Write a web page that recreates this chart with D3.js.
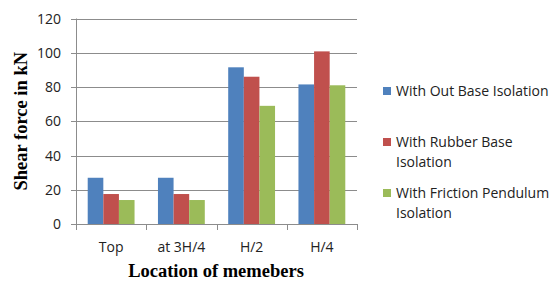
<!DOCTYPE html>
<html>
<head>
<meta charset="utf-8">
<script src="https://cdn.jsdelivr.net/npm/d3@7"></script>
<style>
  body { margin: 0; background: #fff; }
  text { font-family: "Open Sans", "Liberation Sans", sans-serif; }
</style>
</head>
<body>
<svg id="chart"></svg>
<script>
var width = 552,
    height = 283

// chart data
var locations = ["Top", "at 3H/4", "H/2", "H/4"];
var seriesNames = ["With Out Base Isolation", "With Rubber Base Isolation", "With Friction Pendulum Isolation"];
var withOutBase = [27, 27, 91.5, 81.5];
var withRubber = [17.5, 17.5, 86, 100.8];
var withFriction = [14, 14, 69, 81];
var yTicks = [0, 20, 40, 60, 80, 100, 120];

var colors = ["#4F81BD", "#C0504D", "#9BBB59"];
var legendLines = [["With Out Base Isolation"], ["With Rubber Base", "Isolation"], ["With Friction Pendulum", "Isolation"]];

var margin = {left: 76, right: 195, top: 18.5, bottom: 59};

var svg = d3.select("svg#chart")
    .attr("width", width)
    .attr("height", height);

var x = d3.scaleBand()
    .domain(locations)
    .range([margin.left, width - margin.right])
    .paddingInner(0)
    .paddingOuter(0);

var x1 = d3.scaleBand()
    .domain([0, 1, 2])
    .range([0, x.bandwidth()])
    .paddingOuter(0.75)
    .paddingInner(0);

var y = d3.scaleLinear()
    .domain([0, 120])
    .range([height - margin.bottom, margin.top]);

// gridlines
svg.append("g")
    .selectAll("line")
    .data(yTicks)
    .enter()
    .append("line")
    .attr("x1", margin.left)
    .attr("x2", width - margin.right)
    .attr("y1", function(d){ return Math.round(y(d)) + 0.5 })
    .attr("y2", function(d){ return Math.round(y(d)) + 0.5 })
    .attr("stroke", "#8c8c8c")
    .attr("stroke-width", 1);

// y axis labels
svg.append("g")
    .selectAll("text")
    .data(yTicks)
    .enter()
    .append("text")
    .attr("x", margin.left - 15)
    .attr("y", function(d){ return y(d) + 5 })
    .attr("text-anchor", "end")
    .attr("font-size", 14)
    .attr("fill", "#222")
    .text(function(d){ return d });

// y axis line and left tick
svg.append("line")
    .attr("x1", margin.left + 0.5).attr("x2", margin.left + 0.5)
    .attr("y1", y(120)).attr("y2", y(0))
    .attr("stroke", "#8c8c8c");
svg.append("g")
    .selectAll("line")
    .data(yTicks)
    .enter()
    .append("line")
    .attr("x1", margin.left - 5).attr("x2", margin.left)
    .attr("y1", function(d){ return Math.round(y(d)) + 0.5 })
    .attr("y2", function(d){ return Math.round(y(d)) + 0.5 })
    .attr("stroke", "#8c8c8c");

// bars
var allSeries = [withOutBase, withRubber, withFriction];
var groups = svg.selectAll("g.cat")
    .data(locations)
    .enter()
    .append("g")
    .attr("class", "cat")
    .attr("transform", function(d){ return "translate(" + x(d) + ",0)" });

groups.selectAll("rect")
    .data(function(d, i){ return allSeries.map(function(s, k){ return {k: k, v: s[i]} }) })
    .enter()
    .append("rect")
    .attr("x", function(d){ return x1(d.k) })
    .attr("width", x1.bandwidth())
    .attr("y", function(d){ return y(d.v) })
    .attr("height", function(d){ return y(0) - y(d.v) })
    .attr("fill", function(d){ return colors[d.k] });

// x axis
var xEdges = locations.map(function(d){ return x(d) }).concat([x.range()[1]]);
svg.append("line")
    .attr("x1", margin.left).attr("x2", width - margin.right)
    .attr("y1", Math.round(y(0)) + 0.5).attr("y2", Math.round(y(0)) + 0.5)
    .attr("stroke", "#8c8c8c");
svg.append("g")
    .selectAll("line")
    .data(xEdges)
    .enter()
    .append("line")
    .attr("x1", function(d){ return Math.round(d) + 0.5 })
    .attr("x2", function(d){ return Math.round(d) + 0.5 })
    .attr("y1", y(0)).attr("y2", y(0) + 6)
    .attr("stroke", "#8c8c8c");

svg.append("g")
    .selectAll("text")
    .data(locations)
    .enter()
    .append("text")
    .attr("x", function(d){ return x(d) + x.bandwidth() / 2 })
    .attr("y", y(0) + 28)
    .attr("text-anchor", "middle")
    .attr("font-size", 14)
    .attr("fill", "#222")
    .text(function(d){ return d });

// axis titles
svg.append("text")
    .attr("transform", "translate(27," + ((y(0) + y(120)) / 2) + ") rotate(-90)")
    .attr("text-anchor", "middle")
    .style("font-family", "'Liberation Serif', serif")
    .attr("font-weight", "bold")
    .attr("font-size", 18.5)
    .text("Shear force in kN");

svg.append("text")
    .attr("x", 216)
    .attr("y", 277)
    .attr("text-anchor", "middle")
    .style("font-family", "'Liberation Serif', serif")
    .attr("font-weight", "bold")
    .attr("font-size", 18.5)
    .text("Location of memebers");

// legend
var legendY = [96, 147, 198];
var legend = svg.selectAll("g.legend")
    .data(seriesNames)
    .enter()
    .append("g")
    .attr("class", "legend")
    .attr("transform", function(d, i){ return "translate(383," + legendY[i] + ")" });

legend.append("rect")
    .attr("x", 0)
    .attr("y", -9)
    .attr("width", 8)
    .attr("height", 8)
    .attr("fill", function(d, i){ return colors[i] });

legend.each(function(d, i){
    var t = d3.select(this).append("text")
        .attr("x", 13)
        .attr("y", 0)
        .attr("font-size", 14)
        .attr("fill", "#222");
    legendLines[i].forEach(function(line, j){
        t.append("tspan")
            .attr("x", 13)
            .attr("dy", j === 0 ? 0 : 20)
            .text(line);
    });
});
</script>
</body>
</html>
